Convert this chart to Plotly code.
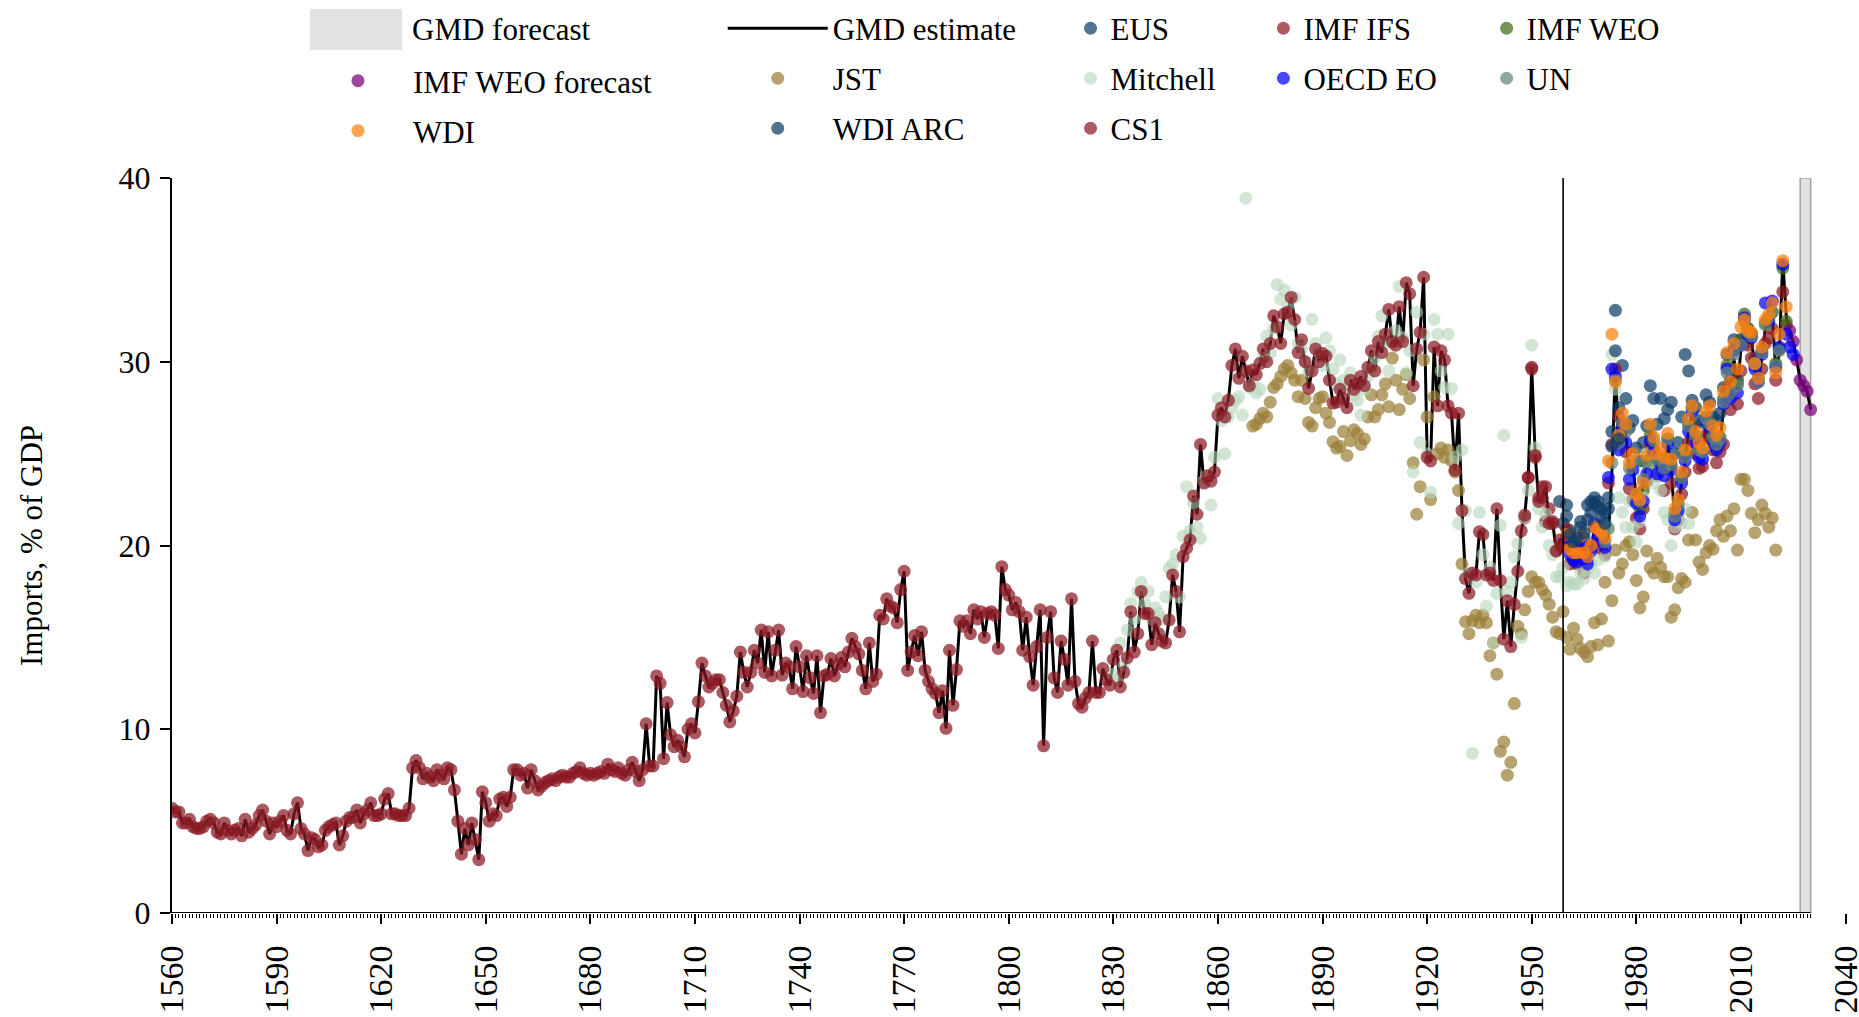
import plotly.graph_objects as go

# ---------------- DATA ----------------
# CS1 (country-specific source), annual, 1560-1958
cs1_start = 1560
cs1_values = [
    5.7, 5.5, 5.5, 4.9, 4.9, 5.1, 4.7, 4.6, 4.6, 4.7,      # 1560s
    5.0, 5.1, 4.9, 4.4, 4.3, 4.9, 4.5, 4.3, 4.5, 4.6,      # 1570s
    4.2, 5.1, 4.4, 4.6, 4.8, 5.3, 5.6, 5.0, 4.3, 4.9,      # 1580s
    4.7, 5.0, 5.3, 4.5, 4.3, 5.4, 6.0, 4.6, 4.3, 3.4,      # 1590s
    4.1, 4.0, 3.6, 3.7, 4.5, 4.7, 4.8, 4.9, 3.7, 4.2,      # 1600s
    5.0, 5.2, 5.2, 5.6, 4.9, 5.4, 5.6, 6.0, 5.3, 5.3,      # 1610s
    5.4, 6.2, 6.5, 5.4, 5.4, 5.3, 5.3, 5.3, 5.7, 7.9,      # 1620s
    8.3, 7.9, 7.3, 7.6, 7.4, 7.2, 7.8, 7.5, 7.3, 7.9,      # 1630s
    7.8, 6.7, 5.0, 3.2, 4.6, 3.7, 4.9, 4.0, 2.9, 6.6,      # 1640s
    6.0, 5.0, 5.4, 5.3, 6.2, 6.3, 5.8, 6.3, 7.8, 7.8,      # 1650s
    7.5, 7.6, 6.8, 7.8, 7.2, 6.7, 6.9, 7.1, 7.2, 7.3,      # 1660s
    7.2, 7.4, 7.5, 7.4, 7.4, 7.6, 7.7, 7.9, 7.6, 7.5,      # 1670s
    7.6, 7.5, 7.6, 7.7, 7.6, 8.1, 7.8, 7.7, 7.9, 7.6,      # 1680s
    7.5, 7.8, 8.2, 7.7, 7.2, 7.8, 10.3, 8.0, 8.0, 12.9,    # 1690s
    12.5, 8.4, 11.45, 9.7, 9.05, 9.4, 9.05, 8.5, 10.0, 10.3,   # 1700s
    9.8, 11.5, 13.6, 12.9, 12.3, 12.5, 12.7, 12.7, 12.0, 11.3, # 1710s
    10.4, 11.0, 11.8, 14.2, 13.1, 12.3, 13.1, 14.3, 13.6, 15.4, # 1720s
    13.1, 15.3, 12.9, 14.3, 15.4, 12.95, 13.6, 13.4, 12.2, 14.5, # 1730s
    13.4, 12.05, 14.0, 12.8, 11.95, 14.0, 10.9, 12.9, 13.0, 13.85, # 1740s
    12.9, 13.5, 13.9, 13.4, 14.2, 14.95, 14.5, 14.1, 13.2, 12.2,  # 1750s
    14.7, 12.6, 13.0, 16.2, 16.0, 17.1, 16.7, 16.6, 15.8, 17.6,   # 1760s
    18.6, 13.2, 14.2, 15.1, 14.0, 15.3, 13.2, 12.6, 12.2, 11.95,  # 1770s
    10.9, 12.1, 10.05, 14.3, 11.3, 13.25, 15.9, 15.6, 15.9, 15.2, # 1780s
    16.5, 16.0, 16.4, 15.0, 16.3, 16.4, 16.2, 14.4, 18.85, 17.6,  # 1790s
    17.3, 16.5, 16.9, 16.4, 14.3, 16.1, 13.95, 12.4, 14.5, 16.5,  # 1800s
    9.1, 15.0, 16.4, 12.8, 12.0, 14.8, 13.8, 12.4, 17.1, 12.6,    # 1810s
    11.4, 11.2, 11.7, 12.0, 14.8, 12.0, 12.0, 13.3, 12.7, 12.4,   # 1820s
    13.8, 14.3, 12.3, 13.1, 13.9, 16.4, 14.2, 15.2, 17.5, 16.3,   # 1830s
    16.3, 14.6, 15.8, 15.2, 14.8, 14.7, 15.95, 18.4, 17.5, 15.3,  # 1840s
    19.4, 19.85, 20.3, 22.7, 21.7, 25.5, 23.4, 23.8, 23.5, 24.0,  # 1850s
    27.1, 27.5, 27.0, 27.9, 29.8, 30.7, 29.1, 30.3, 29.5, 28.7,   # 1860s
    29.55, 29.3, 29.9, 30.7, 30.0, 31.0, 32.5, 31.9, 31.0, 32.6,  # 1870s
    32.7, 33.5, 32.3, 30.5, 31.2, 30.0, 28.55, 29.5, 30.7, 30.0,  # 1880s
    30.45, 30.3, 29.0, 27.75, 27.8, 28.5, 28.0, 27.5, 29.0, 28.5, # 1890s
    28.8, 29.2, 28.7, 29.7, 30.6, 29.5, 31.1, 30.5, 31.5, 32.85,  # 1900s
    31.1, 30.9, 33.0, 31.1, 34.3, 33.7, 28.7, 30.7, 31.6, 34.6,   # 1910s
    24.8, 24.6, 30.8, 27.6, 30.6, 30.1, 27.6, 27.2, 24.1, 27.2,   # 1920s
    21.9, 18.2, 17.4, 18.5, 18.4, 20.75, 20.6, 18.4, 18.5, 18.1,  # 1930s
    22.0, 18.1, 14.9, 17.0, 14.5, 16.8, 18.6, 20.8, 21.65, 23.7,  # 1940s
    29.7, 24.9, 22.4, 22.6, 23.2, 21.2, 21.3, 19.7, 20.3,         # 1950-1958
]
cs1_years = list(range(cs1_start, cs1_start + len(cs1_values)))

# GMD estimate after the CS1 period, 1959-2030
gmd_recent_start = 1959
gmd_recent_values = [
    20.3, 20.6, 19.6, 19.4, 19.2, 20.0, 19.3, 19.2, 19.6, 21.0, 20.6,   # 1959-1969
    20.4, 19.9, 20.6, 24.0, 29.7, 25.3, 26.5, 26.0, 24.0, 24.4,         # 1970-1979
    22.6, 22.2, 23.4, 24.4, 26.3, 25.5, 24.5, 24.6, 24.0, 25.6,         # 1980-1989
    24.2, 21.4, 22.0, 23.5, 24.6, 26.3, 27.3, 25.8, 25.0, 24.9,         # 1990-1999
    26.7, 26.4, 25.7, 25.3, 25.6, 27.6, 29.2, 28.1, 30.2, 28.5,         # 2000-2009
    30.7, 32.0, 31.4, 31.2, 29.7, 28.7, 30.3, 31.8, 32.2, 32.5,         # 2010-2019
    29.6, 30.4, 35.5, 32.5, 31.6, 31.1, 30.1, 29.0, 28.7, 28.4, 27.4,   # 2020-2030
]
gmd_years = cs1_years + list(range(gmd_recent_start, gmd_recent_start + len(gmd_recent_values)))
gmd_values = cs1_values + gmd_recent_values

jst_start = 1870
jst_values = [
    26.5, 26.6, 26.9, 27.2, 27.0, 27.8, 28.6, 28.8, 29.2, 29.6,
    29.8, 29.4, 29.0, 28.1, 29.0, 28.0, 26.7, 26.5, 27.5, 28.0,
    28.1, 27.2, 26.7, 25.65, 25.3, 25.4, 26.2, 24.9, 25.7, 26.3,
    26.1, 25.5, 25.8, 27.0, 28.2, 27.0, 27.4, 28.2, 28.8, 27.55,
    30.2, 29.0, 27.4, 28.5, 29.3, 28.0, 24.5, 21.7, 23.2, 30.1,
    27.0, 22.5, 28.1, 25.0, 25.3, 24.8, 25.2, 24.6, 24.0, 23.0,
    19.0, 15.85, 15.2, 15.9, 16.2, 15.8, 16.2, 15.8, 14.0, 14.7,
    13.0, 8.8, 9.3, 7.5, 8.2, 11.4, 15.6, 15.2, 16.5, 17.5,
    18.3, 18.0, 18.0, 17.6, 17.3, 16.8, 16.1, 15.3, 15.2, 16.4,
    15.0, 14.35, 15.5, 14.9, 14.4, 14.2, 13.95, 14.5, 15.8, 14.6,
    16.0, 18.0, 14.8, 17.0, 19.75, 18.5, 19.0, 20.0, 20.2, 19.5,
    18.1, 16.6, 17.2, 19.7, 18.8, 18.5, 19.3, 18.8, 18.3, 18.3,
    16.1, 16.5, 17.7, 18.2, 18.0, 20.3, 21.8, 20.3, 19.1, 18.7,
    19.6, 20.0, 19.8, 20.8, 21.4, 20.5, 21.6, 20.8, 22.0, 19.75,
    23.6, 23.6, 23.0, 21.75, 20.7, 21.4, 22.2, 21.75, 21.0, 21.5,
    19.75,
]
jst_years = list(range(jst_start, jst_start + len(jst_values)))

mitchell_start = 1830
mitchell_values = [
    13.0, 12.7, 14.7, 13.5, 15.4, 16.85, 16.0, 17.5, 18.0, 16.85,
    17.5, 16.0, 16.6, 16.3, 16.0, 17.2, 18.75, 19.0, 19.5, 17.2,
    20.5, 23.2, 20.8, 22.3, 21.0, 20.4, 23.5, 23.8, 22.2, 24.8,
    28.0, 26.8, 25.0, 27.0, 27.5, 27.9, 28.1, 27.1, 38.9, 28.6,
    28.8, 28.3, 28.5, 30.2, 31.4, 30.5, 31.8, 34.2, 33.4, 33.9,
    33.0, 32.0, 33.5, 31.0, 30.7, 30.0, 29.5, 32.3, 31.0, 30.5,
    29.8, 31.3, 30.6, 29.6, 28.8, 30.1, 29.0, 28.6, 29.4, 28.2,
    27.9, 27.1, 28.5, 29.2, 29.6, 30.2, 31.4, 32.5, 31.0, 29.5,
    31.0, 31.7, 34.1, 31.3, 29.4, 30.6, 24.0, 32.7, 25.6, 31.5,
    25.0, 22.9, 32.3, 31.5, 29.5, 28.6, 31.5, 28.55, 24.8, 21.2,
    25.2, 21.9, 18.5, 8.7, 18.0, 21.8, 19.5, 16.7, 18.8, 14.7,
    17.4, 21.1, 26.0, 17.5, 18.0, 19.4, 20.1, 15.0, 21.5, 23.0,
    30.9, 25.3, 22.0, 21.0, 21.7, 20.0, 19.5, 18.3, 18.3, 18.8,
    17.8, 18.0, 17.9, 17.9, 18.5, 18.2, 18.7, 19.0, 18.5, 19.2,
    20.5, 19.4, 21.0, 30.4, 28.5, 22.6, 21.8, 21.0, 22.4, 21.0,
    20.2, 21.3, 22.6, 25.0, 24.2, 23.4, 23.8, 23.0, 21.8, 21.4,
    20.0, 21.0, 21.6, 21.2, 22.0, 21.2,
]
mitchell_years = list(range(mitchell_start, mitchell_start + len(mitchell_values)))

eus_start = 1958
eus_values = [
    22.4, 21.2, 22.2, 20.8, 20.3, 20.0, 21.0, 20.4, 22.2, 22.4,
    22.6, 22.4, 22.0, 21.8, 22.6, 26.2, 32.8, 27.5, 29.8, 28.0,
    26.4, 26.8, 25.3, 24.6, 25.6, 26.5, 28.7, 28.0, 26.6, 28.0,
    26.9, 27.4, 27.8, 25.0, 25.6, 27.0, 30.4, 29.5, 27.9, 27.5,
    26.8, 26.7, 28.2, 27.8, 27.0, 26.8, 27.2, 28.6, 30.4, 29.0,
    31.2, 29.0, 31.2, 32.3, 31.8, 31.5, 30.2,
]
eus_years = list(range(eus_start, eus_start + len(eus_values)))

ifs_start = 1948
ifs_values = [
    21.5, 23.7, 29.6, 24.8, 22.6, 23.2, 21.3, 22.0, 21.2, 19.7,
    19.9, 20.0, 20.9, 19.0, 19.3, 19.0, 19.8, 18.5, 19.2, 19.9,
    21.0, 20.3, 19.8, 19.5, 23.4, 25.5, 29.6, 27.0, 26.6, 25.1,
    23.1, 22.5, 21.5, 20.9, 22.0, 23.5, 25.4, 24.3, 23.8, 24.1,
    23.0, 24.7, 23.4, 20.9, 21.4, 22.8, 24.0, 25.6, 26.4, 25.0,
    24.2, 24.3, 26.0, 25.8, 25.2, 24.5, 25.1, 25.5, 28.5, 27.4,
    28.9, 27.7, 29.5, 31.0, 30.9, 30.2, 28.8, 28.0, 29.6, 31.0,
    31.3, 31.8, 29.0, 30.7, 33.8, 32.0,
]
ifs_years = list(range(ifs_start, ifs_start + len(ifs_values)))

weo_start = 1980
weo_values = [
    22.5, 22.0, 23.0, 24.5, 26.0, 25.2, 24.4, 24.8, 24.2, 25.8,
    24.4, 21.8, 22.3, 23.7, 25.0, 26.5, 27.5, 25.9, 25.2, 25.1,
    27.0, 26.7, 25.9, 25.4, 25.9, 28.0, 29.8, 28.3, 30.7, 28.8,
    31.2, 32.6, 31.8, 31.5, 29.8, 29.1, 30.6, 32.1, 32.4, 32.7,
    29.9, 30.7, 35.1, 32.2,
]
weo_years = list(range(weo_start, weo_start + len(weo_values)))

weo_fc_start = 2024
weo_fc_values = [31.7, 31.1, 30.1, 29.0, 28.7, 28.4, 27.4]
weo_fc_years = list(range(weo_fc_start, weo_fc_start + len(weo_fc_values)))

oecd_start = 1960
oecd_values = [
    20.4, 19.5, 19.2, 19.1, 20.2, 19.3, 19.0, 19.7, 21.2, 20.5,
    20.3, 19.9, 23.7, 29.6, 29.2, 25.2, 26.4, 25.6, 23.6, 24.1,
    22.3, 21.6, 22.4, 23.9, 25.7, 25.1, 23.9, 24.4, 23.8, 25.5,
    24.1, 21.4, 21.9, 23.4, 24.6, 26.2, 27.3, 25.6, 24.8, 24.7,
    26.8, 26.4, 25.6, 25.2, 25.6, 27.7, 29.6, 28.0, 30.6, 28.3,
    30.9, 32.4, 31.5, 31.3, 29.6, 28.9, 30.4, 33.2, 32.2, 33.3,
    29.7, 30.8, 35.3, 31.5, 30.8, 30.4,
]
oecd_years = list(range(oecd_start, oecd_start + len(oecd_values)))

un_start = 1970
un_values = [
    20.8, 20.2, 20.9, 24.5, 29.0, 25.6, 26.7, 26.2, 24.2, 24.6,
    22.8, 22.4, 23.6, 24.6, 26.5, 25.7, 24.7, 24.8, 24.2, 25.8,
    24.4, 21.6, 22.2, 23.7, 24.8, 26.5, 27.5, 26.0, 25.2, 25.1,
    26.9, 26.6, 25.9, 25.5, 25.8, 27.8, 29.4, 28.3, 30.4, 28.7,
    30.9, 32.2, 31.6, 31.4, 29.9, 28.9, 30.5, 32.0, 32.4, 32.7,
    29.8, 30.6,
]
un_years = list(range(un_start, un_start + len(un_values)))

wdi_start = 1960
wdi_values = [
    20.6, 19.8, 19.6, 19.6, 20.5, 19.6, 19.4, 20.0, 21.0, 20.9,
    20.7, 20.4, 24.6, 31.5, 28.9, 26.0, 27.2, 26.6, 24.5, 25.0,
    22.8, 22.5, 23.4, 24.9, 26.6, 25.9, 25.0, 25.3, 24.8, 26.1,
    24.7, 22.0, 22.5, 24.0, 25.2, 26.9, 27.6, 26.2, 25.6, 25.3,
    27.3, 27.6, 26.5, 26.0, 26.4, 28.4, 30.5, 28.9, 31.0, 29.6,
    31.9, 32.3, 31.7, 31.6, 29.9, 29.1, 30.8, 32.3, 32.6, 33.2,
    29.4, 31.5, 35.5, 33.0,
]
wdi_years = list(range(wdi_start, wdi_start + len(wdi_values)))

wdi_arc_start = 1960
wdi_arc_values = [
    21.6, 20.6, 20.2, 20.4, 21.3, 20.7, 21.4, 21.8, 22.3, 22.1,
    21.5, 21.2, 22.0, 25.4, 30.6, 25.8,
]
wdi_arc_years = list(range(wdi_arc_start, wdi_arc_start + len(wdi_arc_values)))

split_year = 1959                 # vertical reference line
forecast_start, forecast_end = 2027, 2030
axis_end = 2030

x_tick_vals = list(range(1560, 2041, 30))
x_tick_text = [str(v) for v in x_tick_vals]
y_tick_vals = [0, 10, 20, 30, 40]
y_tick_text = ["0", "10", "20", "30", "40"]

# ---------------- STYLE ----------------
FONT = "Liberation Serif, Times New Roman, serif"
MS = 13
OP = 0.72
BAND_FILL = "rgb(226,226,226)"

fig = go.Figure()

# GMD forecast band
fig.add_trace(go.Scatter(
    x=[forecast_start, forecast_end, forecast_end, forecast_start, forecast_start],
    y=[0, 0, 40, 40, 0], mode="lines", fill="toself",
    fillcolor=BAND_FILL, line=dict(color="rgb(160,160,160)", width=1.5),
    name="GMD forecast", showlegend=False, hoverinfo="skip"))

# GMD estimate line
fig.add_trace(go.Scatter(x=gmd_years, y=gmd_values, mode="lines",
                         line=dict(color="black", width=3), name="GMD estimate",
                         legend="legend2", legendgroup="g_gmd"))

def dots(x, y, name, color, legend, op=OP):
    fig.add_trace(go.Scatter(x=x, y=y, mode="markers", name=name, legend=legend,
                             legendgroup="g_" + name,
                             marker=dict(size=MS, color=color, opacity=op, line=dict(width=0))))

dots(eus_years, eus_values, "EUS", "#0f3d68", "legend3")
dots(ifs_years, ifs_values, "IMF IFS", "#8a1b24", "legend4")
dots(weo_years, weo_values, "IMF WEO", "#3e6914", "legend5")
dots(weo_fc_years, weo_fc_values, "IMF WEO forecast", "#7a007a", "legend")
dots(jst_years, jst_values, "JST", "#9b7f37", "legend2")
dots(mitchell_years, mitchell_values, "Mitchell", "#b5d6bb", "legend3", 0.6)
dots(oecd_years, oecd_values, "OECD EO", "#0000ff", "legend4")
dots(un_years, un_values, "UN", "#628678", "legend5")
dots(wdi_years, wdi_values, "WDI", "#ff7f0e", "legend")
dots(wdi_arc_years, wdi_arc_values, "WDI ARC", "#0f3d68", "legend2")
dots(cs1_years, cs1_values, "CS1", "#8a1b24", "legend3")

# vertical reference line
fig.add_vline(x=split_year, line=dict(color="black", width=1.6), layer="above")
# x-axis baseline (stops at the last data year)
fig.add_shape(type="line", xref="x", yref="y", x0=cs1_start, x1=axis_end, y0=0, y1=0,
              line=dict(color="black", width=2), layer="above")

# legend swatch for the forecast band (wide grey box, as in the original legend)
fig.add_shape(type="rect", xref="paper", yref="paper", x0=0.0823, x1=0.1371,
              y0=1.1742, y1=1.2299, fillcolor=BAND_FILL, line=dict(width=0), layer="above")
fig.add_annotation(xref="paper", yref="paper", x=0.1420, y=1.2014, text="GMD forecast",
                   showarrow=False, xanchor="left", yanchor="middle",
                   font=dict(family=FONT, size=31, color="black"))

LEG_Y = 1.240
LEG_Y2 = 1.1687

def leg(x, y, iw):
    return dict(x=x, y=y, xanchor="left", yanchor="top", orientation="v",
                font=dict(family=FONT, size=31, color="black"), bgcolor="rgba(0,0,0,0)",
                borderwidth=0, itemwidth=iw, tracegroupgap=6.7, traceorder="grouped")

fig.update_layout(
    template="none",
    width=1859, height=1017,
    margin=dict(l=172, r=9.5, t=178, b=104, pad=0, autoexpand=False),
    paper_bgcolor="white", plot_bgcolor="white",
    font=dict(family=FONT, size=31, color="black"),
    showlegend=True,
    legend=leg(0.0781, LEG_Y2, 100),
    legend2=leg(0.3284, LEG_Y, 100),
    legend3=leg(0.5358, LEG_Y, 30),
    legend4=leg(0.6508, LEG_Y, 30),
    legend5=leg(0.7839, LEG_Y, 30),
    xaxis=dict(range=[1560, 2041], tickmode="array", tickvals=x_tick_vals, ticktext=x_tick_text,
               tickangle=-90, ticks="outside", ticklen=10, tickwidth=2, tickcolor="black",
               showline=False, showgrid=False, zeroline=False, automargin=False,
               tickfont=dict(family=FONT, size=34, color="black"),
               ticklabelstandoff=8, ticklabeloverflow="allow",
               minor=dict(tickmode="array", tickvals=list(range(1560, axis_end + 1)),
                          ticks="outside", ticklen=4, tickwidth=1, tickcolor="black", showgrid=False)),
    yaxis=dict(range=[0, 40], tickmode="array", tickvals=y_tick_vals, ticktext=y_tick_text,
               ticks="outside", ticklen=10, tickwidth=2, tickcolor="black",
               showline=True, linecolor="black", linewidth=2, showgrid=False, zeroline=False,
               automargin=False, ticklabelstandoff=3,
               tickfont=dict(family=FONT, size=32, color="black"),
               title=dict(text="Imports, % of GDP", font=dict(family=FONT, size=31), standoff=67)),
)

fig.write_html("out.html", config={"displayModeBar": False},
               post_script="document.body.style.margin='0px';")
